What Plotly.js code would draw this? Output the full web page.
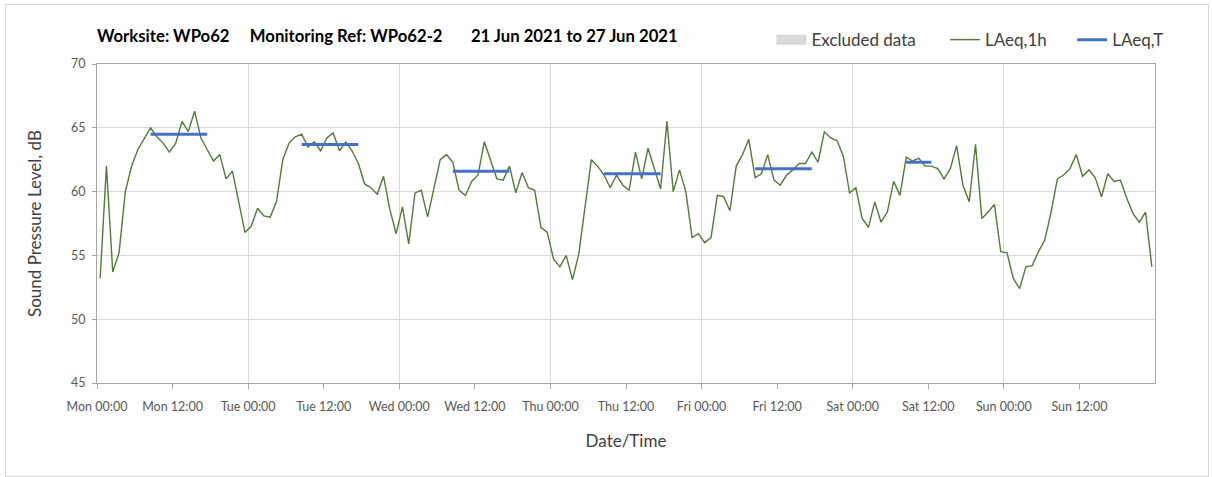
<!DOCTYPE html>
<html>
<head>
<meta charset="utf-8">
<script src="https://cdn.plot.ly/plotly-3.0.1.min.js"></script>
<style>
html,body{margin:0;padding:0;background:#fff;}
#chart{width:1212px;height:477px;}
#frame{position:absolute;left:5px;top:4px;width:1202px;height:471px;border:1px solid #d9d9d9;pointer-events:none;}
</style>
</head>
<body>
<div id="chart"></div>
<div id="frame"></div>
<script>
// ---- Data ----
const tickLabels = ['Mon 00:00','Mon 12:00','Tue 00:00','Tue 12:00','Wed 00:00','Wed 12:00',
  'Thu 00:00','Thu 12:00','Fri 00:00','Fri 12:00','Sat 00:00','Sat 12:00','Sun 00:00','Sun 12:00'];
const dayStarts = [0, 24, 48, 72, 96, 120, 144, 168];

// LAeq,1h values per day (hour 00 .. 23)
const monLAeq1h = [53.2,62.0,53.7,55.2,60.0,62.0,63.3,64.1,65.0,64.3,63.8,63.1,63.8,65.5,64.7,66.3,64.2,63.3,62.4,62.9,61.0,61.6,59.1,56.8];
const tueLAeq1h = [57.3,58.7,58.1,58.0,59.2,62.5,63.8,64.3,64.5,63.5,63.9,63.2,64.2,64.6,63.2,63.9,63.2,62.2,60.6,60.3,59.8,61.2,58.6,56.7];
const wedLAeq1h = [58.8,55.9,59.9,60.1,58.0,60.3,62.5,62.9,62.3,60.1,59.7,60.8,61.3,63.9,62.5,61.0,60.9,62.0,59.9,61.5,60.3,60.1,57.2,56.8];
const thuLAeq1h = [54.7,54.1,55.0,53.1,55.1,58.8,62.5,62.0,61.3,60.3,61.3,60.5,60.1,63.1,61.0,63.4,61.7,60.2,65.5,60.0,61.7,60.0,56.4,56.7];
const friLAeq1h = [56.0,56.4,59.7,59.6,58.5,62.0,62.9,64.1,61.1,61.4,62.9,60.9,60.5,61.3,61.7,62.2,62.2,63.1,62.3,64.7,64.2,64.0,62.8,59.9];
const satLAeq1h = [60.3,57.9,57.2,59.2,57.6,58.4,60.8,59.7,62.7,62.4,62.6,62.0,62.0,61.8,61.0,61.8,63.6,60.5,59.2,63.7,57.9,58.4,59.0,55.3];
const sunLAeq1h = [55.2,53.2,52.4,54.1,54.2,55.3,56.2,58.4,61.0,61.3,61.8,62.9,61.2,61.7,61.1,59.6,61.4,60.8,60.9,59.5,58.3,57.6,58.4,54.1];

// LAeq,T periods (hour of week start / end) and values
const laeqTStart = [8, 32, 56, 80, 104, 128];
const laeqTEnd   = [18, 42, 66, 90, 114, 133];
const laeqTValue = [64.5, 63.7, 61.6, 61.4, 61.8, 62.3];

// Excluded data (none in this period)
const excludedHours = [null];
const excludedValues = [null];

// ---- Build traces ----
const laeq1h = [].concat(monLAeq1h, tueLAeq1h, wedLAeq1h, thuLAeq1h, friLAeq1h, satLAeq1h, sunLAeq1h);
const hourMid = laeq1h.map((_, i) => i + 0.5);

const tX = [], tY = [];
laeqTValue.forEach((v, i) => {
  tX.push(laeqTStart[i] + 0.5, laeqTEnd[i] - 0.5, null);
  tY.push(v, v, null);
});

const font = 'Lato, "Open Sans", sans-serif';
const sp = n => '\u00A0'.repeat(n);

const traces = [
  {type:'scatter', mode:'lines', name:'Excluded data', x: excludedHours, y: excludedValues,
   line:{color:'#d9d9d9', width:10}, legend:'legend', hoverinfo:'skip', showlegend:true},
  {type:'scatter', mode:'lines', name:'LAeq,1h', x: hourMid, y: laeq1h,
   line:{color:'#55793c', width:1.4}, legend:'legend2'},
  {type:'scatter', mode:'lines', name:'LAeq,T', x: tX, y: tY, xaxis:'x2',
   line:{color:'#4472c4', width:3}, legend:'legend3', connectgaps:false}
];

const legendCommon = {orientation:'h', yanchor:'middle', y:1.075, xanchor:'left',
  font:{family:font, size:17, color:'#404040'}, bgcolor:'rgba(0,0,0,0)', borderwidth:0};

const layout = {
  width:1212, height:477,
  margin:{l:97, r:57, t:64, b:93.5, pad:0},
  paper_bgcolor:'#ffffff', plot_bgcolor:'#ffffff',
  font:{family:font, color:'#595959'},
  title:{text:'<b>Worksite: WPo62' + sp(5) + 'Monitoring Ref: WPo62-2' + sp(7) + '21 Jun 2021 to 27 Jun 2021</b>',
    x:0, xref:'paper', xanchor:'left', y:0.9245, yref:'container', yanchor:'middle',
    font:{family:font, size:16.7, color:'#000000'}},
  xaxis:{range:[0,168], tickvals: tickLabels.map((_, i) => i*12), ticktext: tickLabels,
    showgrid:false, zeroline:false, showline:true, linecolor:'#a6a6a6', linewidth:1, mirror:true,
    ticks:'outside', ticklen:5, tickcolor:'#a6a6a6', ticklabelstandoff:7,
    tickfont:{family:font, size:12.5, color:'#595959'},
    title:{text:'Date/Time', font:{family:font, size:17, color:'#404040'}, standoff:22}},
  xaxis2:{overlaying:'x', matches:'x', anchor:'y', range:[0,168], tickvals: dayStarts,
    showticklabels:false, showgrid:true, gridcolor:'#d9d9d9', gridwidth:1, ticks:'', zeroline:false, showline:false},
  yaxis:{range:[45,70], dtick:5, tick0:45, showgrid:true, gridcolor:'#d9d9d9', gridwidth:1,
    zeroline:false, showline:true, linecolor:'#a6a6a6', linewidth:1, mirror:true,
    ticks:'outside', ticklen:4, tickcolor:'#a6a6a6', ticklabelstandoff:4,
    tickfont:{family:font, size:12.5, color:'#595959'},
    title:{text:'Sound Pressure Level, dB', font:{family:font, size:17, color:'#404040'}, standoff:25}},
  legend: Object.assign({}, legendCommon, {x:0.6375}),
  legend2: Object.assign({}, legendCommon, {x:0.8016}),
  legend3: Object.assign({}, legendCommon, {x:0.9217}),
  showlegend:true
};

Plotly.newPlot('chart', traces, layout, {displayModeBar:false, staticPlot:true});
</script>
</body>
</html>
